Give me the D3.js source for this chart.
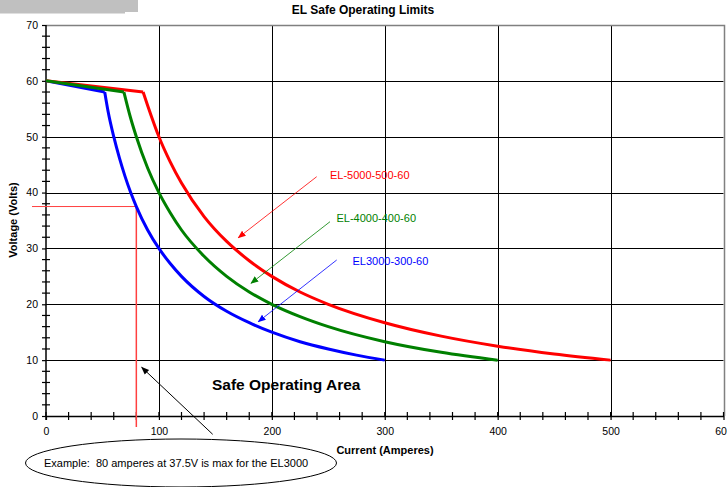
<!DOCTYPE html>
<html>
<head>
<meta charset="utf-8">
<script src="https://cdn.jsdelivr.net/npm/d3@7"></script>
<style>
  body { margin: 0; background: #fff; }
  svg { display: block; font-family: "Liberation Sans", Arial, sans-serif; }
</style>
</head>
<body>
<svg id="chart" width="727" height="487"></svg>
<script>
// ---- data (current in amperes, voltage in volts) ----
const xTicks = [0, 100, 200, 300, 400, 500, 600];
const yTicks = [0, 10, 20, 30, 40, 50, 60, 70];

const el3000Current = [0, 52, 55, 60, 65, 70, 75, 80, 90, 100, 110, 120, 140, 160, 180, 200, 225, 250, 275, 300];
const el3000Voltage = [60, 58, 54.5, 50, 46.2, 42.9, 40, 37.5, 33.3, 30, 27.3, 25, 21.4, 18.75, 16.7, 15, 13.3, 12, 10.9, 10];

const el4000Current = [0, 69, 75, 80, 90, 100, 110, 120, 140, 160, 180, 200, 225, 250, 300, 350, 400];
const el4000Voltage = [60, 58, 53.3, 50, 44.4, 40, 36.4, 33.3, 28.6, 25, 22.2, 20, 17.8, 16, 13.3, 11.4, 10];

const el5000Current = [0, 86, 90, 100, 110, 120, 140, 160, 180, 200, 225, 250, 300, 350, 400, 450, 500];
const el5000Voltage = [60, 58, 55.6, 50, 45.5, 41.7, 35.7, 31.25, 27.8, 25, 22.2, 20, 16.7, 14.3, 12.5, 11.1, 10];

const seriesNames = ["EL3000-300-60", "EL-5000-500-60", "EL-4000-400-60"];
const seriesColors = ["#0000ff", "#ff0000", "#008000"];

// example point
const exampleCurrent = 80;
const exampleVoltage = 37.5;

// ---- chart ----
const svg = d3.select("#chart");
const x = d3.scaleLinear().domain([0, 600]).range([46, 723.5]);
const y = d3.scaleLinear().domain([0, 70]).range([416, 25]);

// grey block top-left
svg.append("rect").attr("x", 0).attr("y", 0).attr("width", 138).attr("height", 12).attr("fill", "#c0c0c0");
svg.append("rect").attr("x", 0).attr("y", 12).attr("width", 125).attr("height", 1.5).attr("fill", "#c0c0c0");

// title
svg.append("text").attr("x", 363).attr("y", 14).attr("text-anchor", "middle")
  .attr("font-size", 12).attr("font-weight", "bold").text("EL Safe Operating Limits");

// grid
const grid = svg.append("g");
grid.selectAll("line.h").data(yTicks.filter(d => d > 0 && d < 70)).join("line")
  .attr("x1", x(0)).attr("x2", x(600)).attr("y1", d => Math.round(y(d)) + 0.5).attr("y2", d => Math.round(y(d)) + 0.5)
  .attr("stroke", "#000").attr("stroke-width", 1);
grid.selectAll("line.v").data(xTicks.filter(d => d > 0 && d < 600)).join("line")
  .attr("y1", y(0)).attr("y2", y(70)).attr("x1", d => Math.round(x(d)) + 0.5).attr("x2", d => Math.round(x(d)) + 0.5)
  .attr("stroke", "#000").attr("stroke-width", 1);
// plot border (top & right)
svg.append("path")
  .attr("d", `M${x(0)},${Math.round(y(70)) + 0.5} H${Math.round(x(600)) + 0.5} V${y(0)}`)
  .attr("fill", "none").attr("stroke", "#808080").attr("stroke-width", 1.5);

// axes
const yAxis = d3.axisLeft(y).tickValues(yTicks).tickSize(4).tickPadding(4).tickSizeOuter(0);
const gy = svg.append("g").attr("transform", `translate(${x(0)},0)`).call(yAxis);
const xAxis = d3.axisBottom(x).tickValues(xTicks).tickSize(4).tickPadding(8).tickSizeOuter(0);
const gx = svg.append("g").attr("transform", `translate(0,${y(0)})`).call(xAxis);
[gy, gx].forEach(g => {
  g.select(".domain").attr("stroke", "#000").attr("stroke-width", 1.5);
  g.selectAll(".tick line").attr("stroke", "#000").attr("stroke-width", 1.2);
  g.selectAll("text").attr("font-size", 10.5).attr("fill", "#000").attr("font-family", "Liberation Sans, Arial, sans-serif");
});
gy.select(".domain").attr("d", `M0,${y(0) + 4}V${y(70)}`);
// minor ticks (crossing)
const yMinor = d3.range(0, 71, 2).filter(d => d % 10 !== 0);
svg.append("g").selectAll("line").data(yMinor).join("line")
  .attr("x1", x(0) - 4).attr("x2", x(0) + 4).attr("y1", d => y(d)).attr("y2", d => y(d))
  .attr("stroke", "#000").attr("stroke-width", 1.2);
const xMinor = d3.range(0, 601, 20).filter(d => d % 100 !== 0);
svg.append("g").selectAll("line").data(xMinor).join("line")
  .attr("y1", y(0) - 4).attr("y2", y(0) + 4).attr("x1", d => x(d)).attr("x2", d => x(d))
  .attr("stroke", "#000").attr("stroke-width", 1.2);
// major ticks cross upward a little
svg.append("g").selectAll("line").data(xTicks).join("line")
  .attr("y1", y(0) - 4).attr("y2", y(0)).attr("x1", d => x(d)).attr("x2", d => x(d))
  .attr("stroke", "#000").attr("stroke-width", 1.2);

// axis titles
svg.append("text").attr("x", 385).attr("y", 454).attr("text-anchor", "middle")
  .attr("font-size", 11).attr("font-weight", "bold").text("Current (Amperes)");
svg.append("text").attr("transform", "translate(17,220) rotate(-90)").attr("text-anchor", "middle")
  .attr("font-size", 11).attr("font-weight", "bold").text("Voltage (Volts)");

// example reference lines
svg.append("line").attr("x1", 32).attr("x2", x(exampleCurrent)).attr("y1", y(exampleVoltage)).attr("y2", y(exampleVoltage))
  .attr("stroke", "#ff4040").attr("stroke-width", 1);
svg.append("line").attr("x1", x(exampleCurrent)).attr("x2", x(exampleCurrent)).attr("y1", y(exampleVoltage)).attr("y2", 427)
  .attr("stroke", "#ff4040").attr("stroke-width", 1.5);

// curves: straight to knee, then smooth curve
const curr = [el3000Current, el5000Current, el4000Current];
const volt = [el3000Voltage, el5000Voltage, el4000Voltage];
const lin = d3.line().x(d => x(d[0])).y(d => y(d[1]));
const smooth = d3.line().x(d => x(d[0])).y(d => y(d[1])).curve(d3.curveMonotoneX);
curr.forEach((cs, i) => {
  const pts = cs.map((c, j) => [c, volt[i][j]]);
  const g = svg.append("g").attr("fill", "none").attr("stroke", seriesColors[i]).attr("stroke-width", 3)
    .attr("stroke-linejoin", "round");
  g.append("path").attr("d", lin(pts.slice(0, 2)));
  g.append("path").attr("d", smooth(pts.slice(1)));
});

// arrow markers
const defs = svg.append("defs");
function marker(id, color) {
  defs.append("marker").attr("id", id).attr("viewBox", "0 0 10 10").attr("refX", 9).attr("refY", 5)
    .attr("markerWidth", 8).attr("markerHeight", 8).attr("markerUnits", "userSpaceOnUse").attr("orient", "auto")
    .append("path").attr("d", "M0,1 L10,5 L0,9 Z").attr("fill", color);
}
marker("ar", "#ff0000"); marker("ag", "#008000"); marker("ab", "#0000ff"); marker("ak", "#000");

// series labels with arrows
const labels = [
  { text: seriesNames[1], color: "#ff0000", tx: 330, ty: 179, a: [316.7, 176.7, 238.3, 237.7], m: "ar" },
  { text: seriesNames[2], color: "#008000", tx: 336.5, ty: 222, a: [330, 221.7, 251, 283.3], m: "ag" },
  { text: seriesNames[0], color: "#0000ff", tx: 352.5, ty: 264.5, a: [336.7, 260, 258.3, 321.7], m: "ab" }
];
labels.forEach(l => {
  svg.append("text").attr("x", l.tx).attr("y", l.ty).attr("font-size", 11).attr("fill", l.color).text(l.text);
  svg.append("line").attr("x1", l.a[0]).attr("y1", l.a[1]).attr("x2", l.a[2]).attr("y2", l.a[3])
    .attr("stroke", l.color).attr("stroke-width", 0.8).attr("marker-end", `url(#${l.m})`);
});

// safe operating area
svg.append("text").attr("x", 212).attr("y", 390).attr("font-size", 15.5).attr("font-weight", "bold")
  .text("Safe Operating Area");

// black arrow to example point
svg.append("line").attr("x1", 212.7).attr("y1", 434.3).attr("x2", 141.7).attr("y2", 367.3)
  .attr("stroke", "#000").attr("stroke-width", 1).attr("marker-end", "url(#ak)");

// example ellipse
svg.append("ellipse").attr("cx", 181).attr("cy", 463).attr("rx", 155.5).attr("ry", 24)
  .attr("fill", "#fff").attr("stroke", "#000").attr("stroke-width", 1);
svg.append("text").attr("x", 44).attr("y", 467).attr("font-size", 11).attr("xml:space", "preserve")
  .style("white-space", "pre")
  .text("Example:  80 amperes at 37.5V is max for the EL3000");
</script>
</body>
</html>
